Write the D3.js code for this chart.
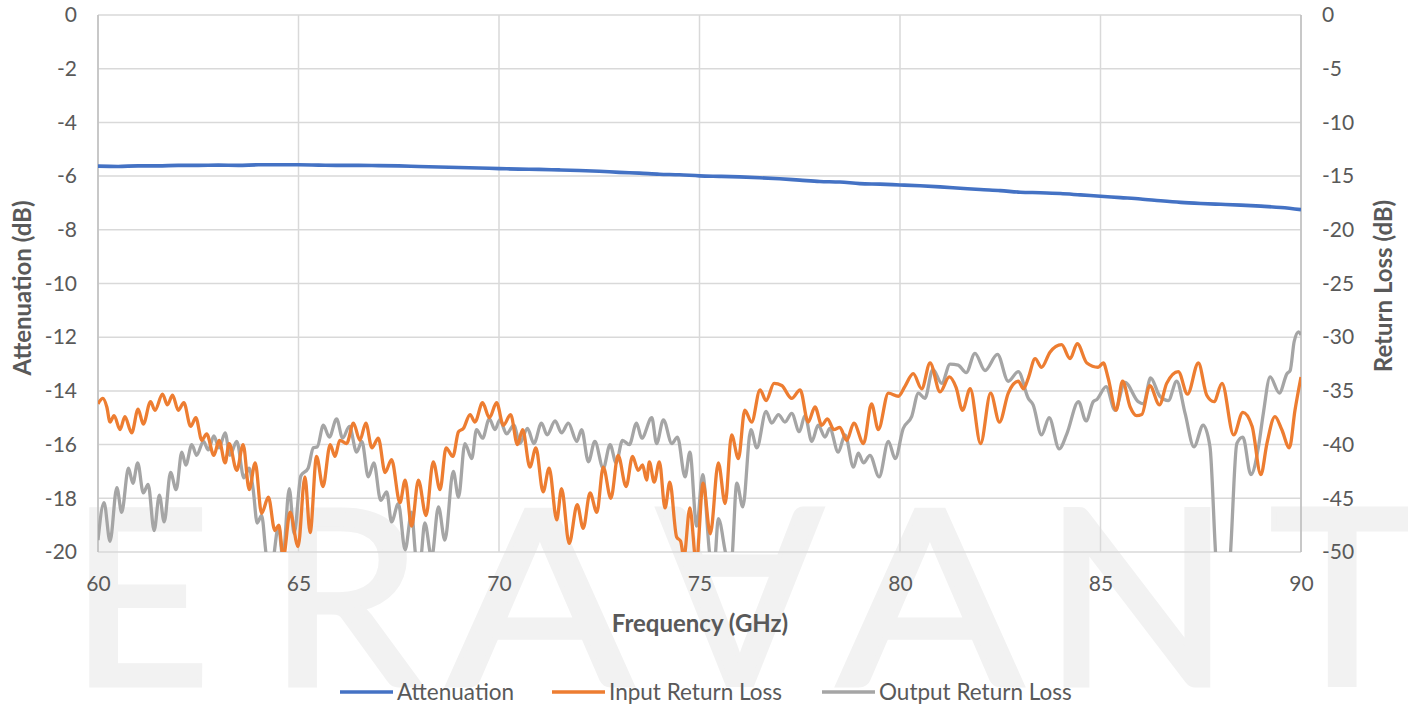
<!DOCTYPE html>
<html><head><meta charset="utf-8">
<script src="https://cdn.jsdelivr.net/npm/d3@7"></script>
<style>html,body{margin:0;padding:0;background:#fff;}svg{display:block;}</style>
</head><body>
<svg id="chart" width="1408" height="708"></svg>
<script>
// ---- data ----
const xTicks = [60, 65, 70, 75, 80, 85, 90];
const leftTicks = [0, -2, -4, -6, -8, -10, -12, -14, -16, -18, -20];
const rightTicks = [0, -5, -10, -15, -20, -25, -30, -35, -40, -45, -50];
const seriesNames = ["Attenuation", "Input Return Loss", "Output Return Loss"];
const watermarkLetters = ["E", "R", "A", "A", "A", "N", "T"];

const attenuation = [[60,-5.63],[60.5,-5.64],[61,-5.62],[61.5,-5.62],[62,-5.6],[62.5,-5.6],[63,-5.59],[63.5,-5.6],[64,-5.58],[64.5,-5.58],[65,-5.58],[65.5,-5.59],[66,-5.6],[66.5,-5.6],[67,-5.61],[67.5,-5.62],[68,-5.64],[68.5,-5.66],[69,-5.68],[69.5,-5.7],[70,-5.72],[70.5,-5.74],[71,-5.75],[71.5,-5.77],[72,-5.79],[72.5,-5.82],[73,-5.86],[73.5,-5.89],[74,-5.93],[74.5,-5.95],[75,-5.99],[75.5,-6.01],[76,-6.03],[76.5,-6.06],[77,-6.1],[77.5,-6.15],[78,-6.2],[78.5,-6.22],[79,-6.28],[79.5,-6.3],[80,-6.33],[80.5,-6.36],[81,-6.4],[81.5,-6.45],[82,-6.5],[82.5,-6.54],[83,-6.6],[83.5,-6.62],[84,-6.65],[84.5,-6.7],[85,-6.75],[85.5,-6.8],[86,-6.85],[86.5,-6.92],[87,-6.98],[87.5,-7.02],[88,-7.05],[88.5,-7.08],[89,-7.12],[89.5,-7.17],[90,-7.25]];

const inputReturnLoss = [[60.00,-36.2],[60.12,-35.7],[60.22,-36.5],[60.30,-37.9],[60.40,-37.3],[60.55,-38.6],[60.67,-37.4],[60.84,-38.9],[61.00,-36.7],[61.13,-38.1],[61.31,-36.0],[61.42,-36.8],[61.61,-35.3],[61.73,-36.3],[61.86,-35.4],[62.00,-36.8],[62.14,-36.1],[62.31,-38.3],[62.44,-37.5],[62.59,-39.6],[62.71,-39.0],[62.89,-41.0],[63.02,-39.6],[63.17,-41.7],[63.27,-39.9],[63.46,-42.4],[63.62,-40.0],[63.77,-44.2],[63.92,-41.7],[64.08,-46.4],[64.25,-44.9],[64.41,-48.0],[64.51,-47.5],[64.62,-50.5],[64.79,-46.3],[64.99,-49.5],[65.16,-43.0],[65.29,-48.2],[65.45,-41.1],[65.61,-43.9],[65.79,-40.0],[65.91,-41.1],[66.03,-39.6],[66.20,-39.9],[66.37,-38.0],[66.53,-39.6],[66.68,-38.0],[66.83,-40.3],[66.99,-39.4],[67.16,-42.6],[67.32,-41.4],[67.53,-45.4],[67.66,-43.3],[67.82,-47.6],[67.99,-43.3],[68.18,-46.6],[68.36,-41.6],[68.53,-44.2],[68.68,-40.3],[68.85,-41.1],[68.99,-38.8],[69.11,-38.5],[69.28,-37.2],[69.40,-37.9],[69.59,-36.1],[69.76,-37.5],[69.94,-36.1],[70.11,-38.2],[70.29,-37.2],[70.46,-40.0],[70.59,-38.6],[70.77,-42.1],[70.92,-40.3],[71.10,-44.4],[71.25,-42.2],[71.44,-47.0],[71.56,-44.1],[71.75,-49.2],[71.95,-45.6],[72.10,-47.8],[72.27,-44.5],[72.44,-46.3],[72.60,-42.1],[72.79,-45.0],[72.97,-41.0],[73.17,-43.9],[73.33,-41.1],[73.47,-42.4],[73.58,-41.9],[73.68,-43.3],[73.75,-41.6],[73.87,-43.5],[74.00,-41.6],[74.14,-45.9],[74.26,-43.5],[74.43,-48.6],[74.53,-49.0],[74.61,-50.5],[74.76,-45.9],[74.92,-51.0],[75.09,-43.6],[75.27,-48.3],[75.47,-41.7],[75.64,-45.5],[75.80,-39.1],[75.97,-41.3],[76.13,-36.8],[76.30,-37.9],[76.51,-34.9],[76.66,-35.9],[76.86,-34.3],[77.05,-34.5],[77.30,-35.7],[77.51,-34.9],[77.71,-37.9],[77.88,-36.5],[78.05,-38.2],[78.19,-37.6],[78.35,-38.6],[78.50,-38.4],[78.67,-39.6],[78.85,-38.0],[79.09,-39.9],[79.29,-36.2],[79.46,-38.6],[79.71,-35.2],[79.96,-35.5],[80.12,-34.6],[80.33,-33.4],[80.54,-34.8],[80.75,-32.4],[81.00,-35.1],[81.23,-33.7],[81.40,-34.7],[81.56,-36.8],[81.75,-34.8],[82.01,-39.9],[82.26,-35.2],[82.48,-37.9],[82.70,-35.2],[82.95,-34.1],[83.08,-34.8],[83.20,-33.8],[83.37,-32.0],[83.53,-32.8],[83.74,-31.4],[84.03,-30.7],[84.24,-32.0],[84.42,-30.6],[84.66,-32.4],[84.94,-32.8],[85.07,-32.4],[85.19,-33.8],[85.39,-36.8],[85.55,-34.1],[85.74,-36.5],[85.90,-37.3],[86.03,-37.2],[86.23,-34.5],[86.47,-36.3],[86.65,-34.3],[86.94,-33.2],[87.17,-35.3],[87.44,-32.4],[87.65,-35.4],[87.83,-36.0],[88.03,-34.3],[88.32,-39.1],[88.55,-37.0],[88.78,-38.3],[89.00,-42.8],[89.15,-39.9],[89.35,-37.4],[89.52,-38.6],[89.71,-40.3],[89.85,-36.8],[90.00,-33.7]];

const outputReturnLoss = [[60.00,-48.9],[60.15,-45.4],[60.30,-49.0],[60.47,-44.0],[60.59,-46.3],[60.76,-42.2],[60.87,-43.6],[60.99,-41.7],[61.13,-44.5],[61.25,-43.7],[61.40,-48.0],[61.53,-44.7],[61.65,-47.2],[61.81,-42.6],[61.95,-44.2],[62.09,-40.7],[62.19,-41.9],[62.34,-40.0],[62.46,-41.0],[62.63,-39.7],[62.75,-40.5],[62.89,-39.2],[63.02,-40.3],[63.17,-38.9],[63.29,-41.0],[63.46,-39.7],[63.64,-43.1],[63.77,-42.2],[63.87,-44.2],[63.97,-47.3],[64.08,-46.6],[64.21,-50.5],[64.34,-51.0],[64.50,-47.6],[64.61,-50.5],[64.77,-44.1],[64.89,-48.3],[65.06,-42.9],[65.24,-42.2],[65.37,-40.3],[65.47,-40.2],[65.62,-38.2],[65.77,-39.3],[65.95,-37.6],[66.10,-39.4],[66.27,-38.3],[66.45,-40.7],[66.58,-39.7],[66.74,-43.0],[66.88,-41.7],[67.05,-45.2],[67.20,-44.4],[67.32,-47.2],[67.49,-45.5],[67.66,-49.8],[67.82,-46.3],[67.93,-50.5],[68.03,-51.0],[68.15,-47.3],[68.32,-50.5],[68.49,-45.8],[68.65,-48.9],[68.86,-42.5],[68.99,-44.9],[69.15,-39.9],[69.32,-41.3],[69.44,-38.6],[69.59,-39.4],[69.76,-37.6],[69.90,-38.6],[70.02,-37.7],[70.19,-39.0],[70.37,-38.2],[70.52,-39.9],[70.71,-38.5],[70.87,-39.9],[71.06,-38.0],[71.20,-39.1],[71.40,-37.8],[71.56,-38.9],[71.73,-38.0],[71.94,-39.7],[72.06,-38.6],[72.23,-41.6],[72.39,-39.7],[72.60,-42.2],[72.77,-40.0],[72.92,-41.7],[73.08,-39.6],[73.25,-40.0],[73.43,-38.0],[73.56,-39.4],[73.81,-37.5],[73.93,-39.9],[74.10,-37.7],[74.31,-39.9],[74.45,-39.3],[74.64,-43.0],[74.76,-40.7],[74.93,-47.6],[75.08,-42.8],[75.27,-50.5],[75.37,-51.0],[75.47,-46.9],[75.68,-50.5],[75.79,-51.0],[75.93,-43.6],[76.08,-45.8],[76.28,-38.6],[76.43,-40.3],[76.66,-36.9],[76.80,-38.0],[76.97,-37.2],[77.13,-37.9],[77.30,-37.1],[77.49,-38.8],[77.63,-37.3],[77.80,-39.7],[77.96,-38.2],[78.13,-39.3],[78.25,-38.5],[78.46,-40.7],[78.63,-39.1],[78.84,-42.1],[78.96,-40.8],[79.09,-41.7],[79.25,-41.0],[79.48,-43.0],[79.71,-39.7],[79.88,-41.3],[80.08,-38.5],[80.29,-37.4],[80.46,-35.2],[80.62,-35.7],[80.82,-33.0],[81.04,-34.3],[81.25,-32.5],[81.45,-32.6],[81.65,-33.3],[81.87,-31.5],[82.12,-33.1],[82.43,-31.6],[82.70,-34.1],[82.95,-33.2],[83.20,-35.7],[83.32,-36.3],[83.53,-39.1],[83.72,-37.5],[83.97,-40.4],[84.16,-39.0],[84.45,-36.0],[84.64,-37.8],[84.82,-36.0],[84.91,-35.8],[85.14,-34.6],[85.36,-36.8],[85.61,-34.2],[85.94,-36.0],[86.07,-36.2],[86.25,-33.8],[86.48,-35.5],[86.69,-35.9],[86.90,-34.1],[87.11,-37.1],[87.33,-40.2],[87.56,-38.2],[87.73,-40.2],[87.88,-50.7],[88.03,-55.0],[88.23,-50.7],[88.40,-39.9],[88.55,-39.3],[88.75,-42.8],[88.94,-40.2],[89.06,-37.1],[89.23,-33.7],[89.46,-35.2],[89.65,-33.4],[89.73,-33.1],[89.83,-30.4],[89.94,-29.5],[90.00,-29.8]];

// ---- layout ----
const colors = ["#4472C4", "#ED7D31", "#A5A5A5"];
const textColor = "#595959";
const gridColor = "#D9D9D9";
const font = "Lato, 'Open Sans', sans-serif";
const M = {left: 98, right: 1301, top: 15, bottom: 552};

const svg = d3.select("#chart");

// watermark (letters, the 4th one is an upside-down A)
const wmCenters = [140, 345, 540, 740, 930, 1137, 1342];
const wm = svg.append("g").attr("class", "watermark");
watermarkLetters.forEach((ch, i) => {
  const t = wm.append("text")
    .attr("x", wmCenters[i]).attr("y", 685).attr("text-anchor", "middle")
    .style("font-family", font).style("font-weight", 400)
    .style("font-size", "244px").style("fill", "#F2F2F2")
    .style("stroke", "#F2F2F2").style("stroke-width", 5)
    .text(ch);
  if (i === 3) t.attr("transform", `rotate(180 ${wmCenters[i]} 597)`);
  if (i === 2 || i === 4) t.attr("transform", `translate(${wmCenters[i]},0) scale(1.12,1) translate(${-wmCenters[i]},0)`);
});

const x = d3.scaleLinear().domain([60, 90]).range([M.left, M.right]);
const yL = d3.scaleLinear().domain([-20, 0]).range([M.bottom, M.top]);
const yR = d3.scaleLinear().domain([-50, 0]).range([M.bottom, M.top]);

// gridlines
svg.append("g").selectAll("line").data(leftTicks).join("line")
  .attr("x1", M.left).attr("x2", M.right)
  .attr("y1", d => yL(d)).attr("y2", d => yL(d))
  .attr("stroke", gridColor).attr("stroke-width", 1.5);
svg.append("g").selectAll("line").data(xTicks).join("line")
  .attr("x1", d => x(d)).attr("x2", d => x(d))
  .attr("y1", M.top).attr("y2", M.bottom)
  .attr("stroke", gridColor).attr("stroke-width", 1.5);
[M.left, M.right].forEach(px => svg.append("line")
  .attr("x1", px).attr("x2", px).attr("y1", M.top).attr("y2", M.bottom)
  .attr("stroke", "#BFBFBF").attr("stroke-width", 1.5));

// axes (labels only)
const fmt = d => d === 0 ? "0" : "-" + Math.abs(d);
const axB = svg.append("g").attr("transform", `translate(0,${M.bottom})`)
  .call(d3.axisBottom(x).tickValues(xTicks).tickSize(0).tickPadding(24).tickFormat(d3.format("d")));
const axL = svg.append("g").attr("transform", `translate(${M.left},0)`)
  .call(d3.axisLeft(yL).tickValues(leftTicks).tickSize(0).tickPadding(21).tickFormat(fmt));
const axR = svg.append("g").attr("transform", `translate(${M.right},0)`)
  .call(d3.axisRight(yR).tickValues(rightTicks).tickSize(0).tickPadding(21).tickFormat(fmt));
[axB, axL, axR].forEach(a => {
  a.select(".domain").remove();
  a.selectAll("text").style("font-family", font).style("font-size", "21px").style("fill", textColor);
});

// clip
svg.append("clipPath").attr("id", "plotclip").append("rect")
  .attr("x", M.left).attr("y", M.top - 3).attr("width", M.right - M.left).attr("height", M.bottom - M.top + 3);

const lineL = d3.line().x(d => x(d[0])).y(d => yL(d[1])).curve(d3.curveMonotoneX);
const lineR = d3.line().x(d => x(d[0])).y(d => yR(d[1])).curve(d3.curveMonotoneX);
const g = svg.append("g").attr("clip-path", "url(#plotclip)");
g.append("path").datum(outputReturnLoss).attr("d", lineR).attr("fill", "none")
  .attr("stroke", colors[2]).attr("stroke-width", 3.3).attr("stroke-linejoin", "round");
g.append("path").datum(inputReturnLoss).attr("d", lineR).attr("fill", "none")
  .attr("stroke", colors[1]).attr("stroke-width", 3.3).attr("stroke-linejoin", "round");
g.append("path").datum(attenuation).attr("d", lineL).attr("fill", "none")
  .attr("stroke", colors[0]).attr("stroke-width", 3.6).attr("stroke-linejoin", "round");

// axis titles
const titleStyle = s => s.style("font-family", font).style("font-weight", "bold").style("font-size", "24px").style("fill", textColor);
svg.append("text").attr("x", 700).attr("y", 632).attr("text-anchor", "middle").call(titleStyle)
  .text("Frequency (GHz)");
svg.append("text").attr("transform", "translate(31,288) rotate(-90)").attr("text-anchor", "middle").call(titleStyle)
  .text("Attenuation (dB)");
svg.append("text").attr("transform", "translate(1392,286) rotate(-90)").attr("text-anchor", "middle").call(titleStyle)
  .text("Return Loss (dB)");

// legend
const legendX = [340, 552, 822];
const lg = svg.append("g");
seriesNames.forEach((n, i) => {
  lg.append("line").attr("x1", legendX[i]).attr("x2", legendX[i] + 53).attr("y1", 692).attr("y2", 692)
    .attr("stroke", colors[i]).attr("stroke-width", 3.5);
  lg.append("text").attr("x", legendX[i] + 57).attr("y", 700)
    .style("font-family", font).style("font-size", "22.5px").style("fill", textColor).text(n);
});
</script>
</body></html>
